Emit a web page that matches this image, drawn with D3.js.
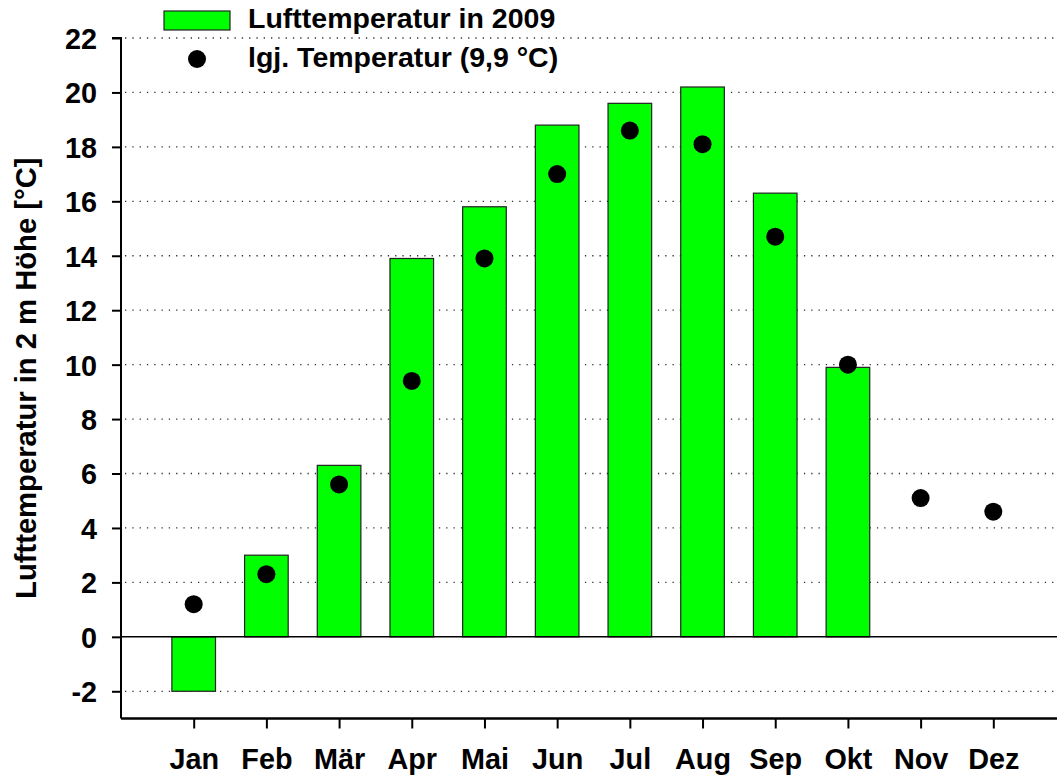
<!DOCTYPE html>
<html>
<head>
<meta charset="utf-8">
<script src="https://cdn.jsdelivr.net/npm/d3@7.9.0/dist/d3.min.js"></script>
<style>
  body { margin: 0; background: #fff; }
  text { font-family: "Liberation Sans", Arial, sans-serif; font-weight: bold; fill: #000; }
</style>
</head>
<body>
<svg id="chart" width="1057" height="778"></svg>
<script>
// month labels
const months = ["Jan", "Feb", "Mär", "Apr", "Mai", "Jun", "Jul", "Aug", "Sep", "Okt", "Nov", "Dez"];
// monthly mean air temperature 2009 (no data for Nov, Dez)
const temp2009 = [-2.0, 3.0, 6.3, 13.9, 15.8, 18.8, 19.6, 20.2, 16.3, 9.9, null, null];
// long-term monthly mean
const longTerm = [1.2, 2.3, 5.6, 9.4, 13.9, 17.0, 18.6, 18.1, 14.7, 10.0, 5.1, 4.6];
// y tick values
const yTicks = [-2, 0, 2, 4, 6, 8, 10, 12, 14, 16, 18, 20, 22];

const svg = d3.select("#chart");
const fs = 28.8;

// x: months sit at 1..12 on a 0..13 axis
const x = d3.scaleLinear().domain([0, 13]).range([121, 1066]);
const y = d3.scaleLinear().domain([-3, 22]).range([718.5, 38]);
const step = x(1) - x(0);
const barW = step * 0.6;

// dotted grid lines
svg.append("g")
  .selectAll("line")
  .data(yTicks.filter((d) => d !== 0))
  .join("line")
  .attr("x1", x(0) + 4)
  .attr("x2", 1057)
  .attr("y1", (d) => y(d))
  .attr("y2", (d) => y(d))
  .attr("stroke", "#333")
  .attr("stroke-width", 1.3)
  .attr("stroke-dasharray", "1.3,6");

// bars
svg.append("g")
  .selectAll("rect")
  .data(temp2009.map((v, i) => ({ v, i })).filter((d) => d.v !== null))
  .join("rect")
  .attr("x", (d) => x(d.i + 1) - barW / 2)
  .attr("width", barW)
  .attr("y", (d) => y(Math.max(0, d.v)))
  .attr("height", (d) => Math.abs(y(d.v) - y(0)))
  .attr("fill", "#00ff00")
  .attr("stroke", "#222")
  .attr("stroke-width", 1.2);

// zero line
svg.append("line")
  .attr("x1", x(0)).attr("x2", 1057)
  .attr("y1", y(0)).attr("y2", y(0))
  .attr("stroke", "#000").attr("stroke-width", 1.5);

// long-term points
svg.append("g")
  .selectAll("circle")
  .data(longTerm)
  .join("circle")
  .attr("cx", (d, i) => x(i + 1))
  .attr("cy", (d) => y(d))
  .attr("r", 9)
  .attr("fill", "#000");

// y axis
const yAxis = svg.append("g")
  .attr("transform", `translate(${x(0)},0)`)
  .call(d3.axisLeft(y).tickValues(yTicks).tickFormat((d) => String(d)).tickSize(9).tickPadding(15));
yAxis.select(".domain").attr("stroke-width", 2).attr("d", `M0,${y(22)}H-9H0V${y(-3)}`);
yAxis.selectAll(".tick line").attr("stroke-width", 2);
yAxis.selectAll(".tick text").attr("font-size", fs).attr("dy", "0.36em");

// x axis
const xAxis = svg.append("g")
  .attr("transform", `translate(0,${y(-3)})`)
  .call(d3.axisBottom(x).tickValues(d3.range(1, 13)).tickFormat((d) => months[d - 1]).tickSize(10).tickPadding(20));
xAxis.select(".domain").attr("stroke-width", 2.5).attr("d", `M${x(0)},0H1057`);
xAxis.selectAll(".tick line").attr("stroke-width", 2);
xAxis.selectAll(".tick text").attr("font-size", fs).attr("dy", "0.72em");

// y axis title
svg.append("text")
  .attr("transform", `translate(36,${(y(22) + y(-3)) / 2}) rotate(-90)`)
  .attr("text-anchor", "middle")
  .attr("font-size", 29.2)
  .text("Lufttemperatur in 2 m Höhe [°C]");

// legend
const legend = svg.append("g");
legend.append("rect")
  .attr("x", 164).attr("y", 11).attr("width", 66).attr("height", 19)
  .attr("fill", "#00ff00").attr("stroke", "#222").attr("stroke-width", 1.2);
legend.append("text").attr("x", 248).attr("y", 28).attr("font-size", 28.5).text("Lufttemperatur in 2009");
legend.append("circle").attr("cx", 197).attr("cy", 59).attr("r", 9).attr("fill", "#000");
legend.append("text").attr("x", 248).attr("y", 67).attr("font-size", 28.5).text("lgj. Temperatur (9,9 °C)");
</script>
</body>
</html>
